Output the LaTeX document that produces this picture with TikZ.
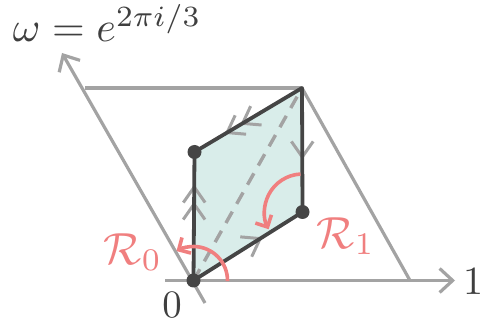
\documentclass[tikz,border=0pt]{standalone}
\usetikzlibrary{arrows.meta,calc}
\definecolor{axgray}{HTML}{A3A3A3}
\definecolor{edgedark}{HTML}{454545}
\definecolor{fillteal}{HTML}{D9EDEA}
\definecolor{salmon}{HTML}{F07F7F}
\definecolor{txt}{HTML}{3F3F3F}
\tikzset{
  axis/.style={draw=axgray, line width=3.2pt},
  axarrow/.style={axis, -{Straight Barb[length=13pt,width=24pt,line width=3.2pt]}},
  edge/.style={draw=edgedark, line width=3.8pt, line cap=round, line join=round},
  diag/.style={draw=axgray, line width=3.4pt, dash pattern=on 13pt off 9pt},
  vdot/.style={circle, fill=edgedark, inner sep=0pt, minimum size=14pt},
  chev/.style={draw=axgray, line width=3pt},
  rot/.style={draw=salmon, line width=3.6pt, -{Straight Barb[length=9pt,width=18pt,line width=3.6pt]}},
  lab/.style={text=txt, inner sep=0pt, scale=4, transform shape},
  rlab/.style={text=salmon, inner sep=0pt, scale=4.5, transform shape},
}
\begin{document}
\begin{tikzpicture}[x=1pt,y=1pt]
\useasboundingbox (0,0) rectangle (485,324);
% key points
\coordinate (O) at (193.5,43.5);
\coordinate (P) at (194.5,172);
\coordinate (T) at (302,236);
\coordinate (Q) at (302.5,112);
\coordinate (W) at (85,236);
\coordinate (One) at (410,43.5);
\coordinate (Xs) at (165,43.5);
\coordinate (Xe) at (455,43.5);
\coordinate (Ys) at (205,21);
\coordinate (Ye) at (62,271);
% big rhombus lines
\draw[axis] (W) -- (T);
\draw[axis] (T) -- (One);
\draw[axarrow] (Xs) -- (Xe);
\draw[axarrow] (Ys) -- (Ye);
% fundamental domain
\fill[fillteal] (O) -- (P) -- (T) -- (Q) -- cycle;
% chevron marks
% left edge, pointing up
\foreach \d in {35,52}{
  \coordinate (c) at ($(P)!\d pt!(O)$);
  \draw[chev] ($(c)+(235:19)$) -- (c) -- ($(c)+(305:19)$);
}
% top-left edge, pointing 210
\foreach \d in {38,56}{
  \coordinate (c) at ($(P)!\d pt!(T)$);
  \draw[chev] ($(c)+(65:19)$) -- (c) -- ($(c)+(-5:19)$);
}
% right edge, pointing down
\coordinate (c1) at ($(Q)!55pt!(T)$);
\draw[chev] ($(c1)+(55:19)$) -- (c1) -- ($(c1)+(125:19)$);
% bottom edge, pointing 30
\coordinate (c2) at ($(Q)!50pt!(O)$);
\draw[chev] ($(c2)+(175:20)$) -- (c2) -- ($(c2)+(245:20)$);
% dashed diagonal
\draw[diag] (O) -- (T);
% edges
\draw[edge] (O) -- (P) -- (T) -- (Q) -- cycle;
% dots
\node[vdot] (dO) at (O) {};
\node[vdot] (dP) at (P) {};
\node[vdot] (dQ) at (Q) {};
% rotations
\draw[rot] ($(O)+(-1:34)$) arc[start angle=-1, end angle=120, radius=34];
\draw[rot] ($(Q)+(93:38)$) arc[start angle=93, end angle=207, radius=38];
% labels
\node[lab, anchor=base west, scale=1.05] (om) at (12,282) {$\omega = e^{2\pi i/3}$};
\node[lab, anchor=base, scale=0.97] (l0) at (172,7) {$0$};
\node[lab, anchor=base east] (l1) at (484,30) {$1$};
\node[rlab] (r0) at (133,72) {$\mathcal{R}_0$};
\node[rlab] (r1) at (346,88) {$\mathcal{R}_1$};
\end{tikzpicture}
\end{document}
